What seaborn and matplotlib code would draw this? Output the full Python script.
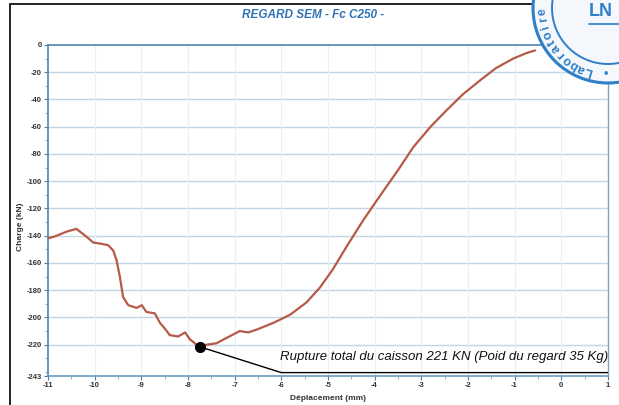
import numpy as np
import pandas as pd
import matplotlib
matplotlib.use("Agg")
import matplotlib.pyplot as plt
import seaborn as sns
from matplotlib.patches import Circle
from matplotlib.ticker import MultipleLocator

# load / displacement curve
deplacement = [-11.0, -10.85, -10.6, -10.39, -10.2, -10.03, -9.85, -9.71, -9.6, -9.53,
               -9.46, -9.39, -9.28, -9.1, -8.99, -8.89, -8.71, -8.6, -8.5, -8.39,
               -8.21, -8.06, -7.96, -7.85, -7.78, -7.6, -7.39, -7.17, -6.89, -6.71,
               -6.53, -6.17, -5.81, -5.46, -5.17, -4.9, -4.6, -4.25, -3.89, -3.5,
               -3.17, -2.8, -2.46, -2.1, -1.74, -1.4, -1.03, -0.75, -0.56]
charge = [-142, -140.5, -137, -135, -140, -145, -146, -147, -151, -158,
          -170, -185, -191, -193, -191, -196, -197, -204, -208, -213,
          -214, -211, -216, -219, -222, -220, -219, -215, -210, -211,
          -209, -204, -198, -189, -178, -165, -148, -129, -111, -92,
          -75, -60, -48, -36, -26, -17, -10, -6, -4]

y_ticks = [0, -20, -40, -60, -80, -100, -120, -140, -160, -180, -200, -220, -243]
x_ticks = [-11, -10, -9, -8, -7, -6, -5, -4, -3, -2, -1, 0, 1]

rupture = (-7.75, -221.5)
leader = ([-7.75, -6.0, 1.0], [-221.5, -240.5, -240.5])
rupture_text = "Rupture total du caisson 221 KN (Poid du regard 35 Kg)"

df = pd.DataFrame({"Déplacement (mm)": deplacement, "Charge (kN)": charge})

sns.set_style("white")
plt.rcParams["font.family"] = ["Liberation Sans", "DejaVu Sans"]

fig = plt.figure(figsize=(6.19, 4.05), dpi=100)
ax = fig.add_axes([0.0775, 0.0716, 0.9045, 0.8173])

grid_col = "#c3d6e5"
for y in y_ticks[1:-1]:
    ax.axhline(y, color=grid_col, lw=1.0, zorder=0)
for x in x_ticks[1:-1]:
    ax.axvline(x, color="#e6eff5", lw=0.8, zorder=0)

sns.lineplot(data=df, x="Déplacement (mm)", y="Charge (kN)", ax=ax,
             color="#b65a48", lw=1.6, zorder=3)

ax.plot(leader[0], leader[1], color="black", lw=1.0, zorder=4)
ax.plot(*rupture, "o", color="black", ms=7, zorder=5)
ax.text(-6.03, -233.5, rupture_text, fontsize=9.5, style="italic",
        ha="left", va="bottom", color="#111111")

ax.set_xlim(-11, 1)
ax.set_ylim(-243, 0)
ax.set_xticks(x_ticks)
ax.set_yticks(y_ticks)
ax.set_xticklabels([str(v) for v in x_ticks])
ax.set_yticklabels([str(v) for v in y_ticks])
ax.xaxis.set_minor_locator(MultipleLocator(0.5))
ax.yaxis.set_minor_locator(MultipleLocator(10))
ax.tick_params(axis="both", which="major", labelsize=5.5, length=3, width=0.8,
               colors="#4a7fa8", labelcolor="#333333", direction="out", pad=1.5)
ax.tick_params(axis="both", which="minor", length=2, width=0.6, colors="#7fa6c4",
               direction="out")
ax.tick_params(axis="y", which="both", left=True)
ax.tick_params(axis="x", which="both", bottom=True)
for lab in ax.get_xticklabels() + ax.get_yticklabels():
    lab.set_fontweight("bold")

for side in ["left", "top", "bottom", "right"]:
    ax.spines[side].set_color("#4f86b0")
    ax.spines[side].set_linewidth(1.2)
ax.spines["bottom"].set_color("#6a9cc0")
ax.spines["right"].set_color("#7aa3c3")
ax.spines["right"].set_linewidth(1.0)

ax.set_xlabel("Déplacement (mm)", fontsize=6, fontweight="bold", color="#333333", labelpad=4)
ax.set_ylabel("Charge (kN)", fontsize=6, fontweight="bold", color="#333333", labelpad=2)
ax.yaxis.set_label_coords(-0.043, 0.45)

fig.text(0.506, 0.963, "REGARD SEM - Fc C250 -", ha="center", va="center",
         fontsize=8.5, fontweight="bold", style="italic", color="#2d72b5")

# scanned page frame
fig.add_artist(plt.Line2D([10 / 619, 10 / 619], [0, 1 - 4 / 405], color="#222222", lw=1.4))
fig.add_artist(plt.Line2D([10 / 619, 540 / 619], [1 - 4 / 405, 1 - 4 / 405], color="#222222", lw=1.4))

# laboratory stamp in the corner
cx, cy = 6.08, 4.05 - 0.08
stamp = "#2f7fc9"
fig.add_artist(Circle((cx, cy), 0.75, transform=fig.dpi_scale_trans, facecolor="#f4f8fc",
                      edgecolor=stamp, lw=2.2, zorder=10))
fig.add_artist(Circle((cx, cy), 0.56, transform=fig.dpi_scale_trans, facecolor="none",
                      edgecolor=stamp, lw=1.4, zorder=11))
word = "Laboratoire"
for i, ch in enumerate(word):
    th = np.deg2rad(253 - i * 7.0)
    fig.text(cx + 0.655 * np.cos(th), cy + 0.655 * np.sin(th), ch,
             transform=fig.dpi_scale_trans, rotation=np.rad2deg(th) - 90,
             ha="center", va="center", fontsize=9, fontweight="bold",
             color=stamp, zorder=12)
fig.text(cx - 0.19, cy - 0.04, "LN", transform=fig.dpi_scale_trans, fontsize=13,
         fontweight="bold", color=stamp, ha="left", va="center", zorder=12)
fig.add_artist(plt.Line2D([cx - 0.19, cx + 0.11], [cy - 0.16, cy - 0.16],
                          transform=fig.dpi_scale_trans, color=stamp, lw=1.2, zorder=12))
fig.text(cx - 0.02, cy - 0.67, "•", transform=fig.dpi_scale_trans, fontsize=9,
         color=stamp, ha="center", va="center", zorder=12)

fig.savefig("out.png", dpi=100)
